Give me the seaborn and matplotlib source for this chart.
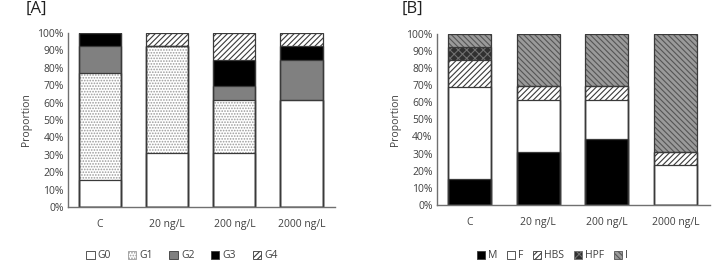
import numpy as np
import pandas as pd
import seaborn as sns
import matplotlib.pyplot as plt
import matplotlib.patches as mpatches

# Data (proportions in %)
groups = ['C', '20 ng/L', '200 ng/L', '2000 ng/L']

# [A] gonad stages
g0 = [15.4, 30.8, 30.8, 61.5]
g1 = [61.5, 61.5, 30.8, 0.0]
g2 = [15.4, 0.0, 7.7, 23.1]
g3 = [7.7, 0.0, 15.4, 7.7]
g4 = [0.0, 7.7, 15.4, 7.7]
stage_names = ['G0', 'G1', 'G2', 'G3', 'G4']

# [B] sex categories
m = [15.4, 30.8, 38.5, 0.0]
f = [53.8, 30.8, 23.1, 23.1]
hbs = [15.4, 7.7, 7.7, 7.7]
hpf = [7.7, 0.0, 0.0, 0.0]
ind = [7.7, 30.8, 30.8, 69.2]
sex_names = ['M', 'F', 'HBS', 'HPF', 'I']

sns.set_style('white')
plt.rcParams['font.family'] = ['Open Sans', 'DejaVu Sans']
plt.rcParams['hatch.linewidth'] = 0.8

fig = plt.figure(figsize=(7.22, 2.63), dpi=100)
ax_a = fig.add_axes([0.094, 0.213, 0.370, 0.662])
ax_b = fig.add_axes([0.605, 0.221, 0.378, 0.650])

edge = '#3a3a3a'
text_col = '#404040'

# face colour, hatch, hatch/edge colour for each layer
style_a = [('white', '', edge), ('white', '......', '#9a9a9a'), ('#808080', '', edge),
           ('black', '', edge), ('white', '//////', edge)]
style_b = [('black', '', edge), ('white', '', edge), ('white', '//////', edge),
           ('#303030', 'xxxx', '#707070'), ('#9a9a9a', '\\\\\\\\\\\\', '#555555')]


def stacked(ax, layers, styles, names, title, title_x, legend_x, colsp):
    cum = np.cumsum(np.array(layers), axis=0)
    # draw from the top layer down so lower segments overlay higher ones
    for i in range(len(layers) - 1, -1, -1):
        fc, hatch, hc = styles[i]
        df = pd.DataFrame({'group': groups, 'value': cum[i]})
        sns.barplot(data=df, x='group', y='value', color=fc, saturation=1,
                    width=0.63, edgecolor=hc, linewidth=0.0, hatch=hatch,
                    errorbar=None, ax=ax)
    # outlines of segments
    for i in range(len(layers)):
        df = pd.DataFrame({'group': groups, 'value': cum[i]})
        sns.barplot(data=df, x='group', y='value', fill=False, width=0.63,
                    edgecolor=edge, linewidth=0.9, errorbar=None, ax=ax)
    ax.set_ylim(0, 100)
    ax.set_xlim(-0.48, 3.5)
    ax.set_yticks(range(0, 101, 10))
    ax.set_yticklabels([f'{v}%' for v in range(0, 101, 10)])
    ax.set_xlabel('')
    ax.set_ylabel('Proportion', fontsize=7.5, color=text_col)
    ax.tick_params(axis='both', labelsize=7.5, colors=text_col, length=0, pad=3)
    ax.tick_params(axis='x', pad=9)
    for s in ['top', 'right']:
        ax.spines[s].set_visible(False)
    for s in ['left', 'bottom']:
        ax.spines[s].set_color('#707070')
        ax.spines[s].set_linewidth(1.0)
    handles = []
    for (fc, hatch, hc), name in zip(styles, names):
        handles.append(mpatches.Patch(facecolor=fc, edgecolor=hc if hatch else edge,
                                      hatch=hatch, linewidth=0.6, label=name))
    fig.legend(handles=handles, loc='center', bbox_to_anchor=(legend_x, 0.027),
               ncol=5, frameon=False, fontsize=7.5, handlelength=0.8,
               handleheight=0.8, handletextpad=0.3, columnspacing=colsp,
               labelcolor=text_col)
    fig.text(title_x, 0.935, title, fontsize=12, color='#202020', va='bottom')


stacked(ax_a, [g0, g1, g2, g3, g4], style_a, stage_names, '[A]', 0.036, 0.252, 1.6)
stacked(ax_b, [m, f, hbs, hpf, ind], style_b, sex_names, '[B]', 0.556, 0.765, 0.9)

fig.savefig('out.png', dpi=100)
